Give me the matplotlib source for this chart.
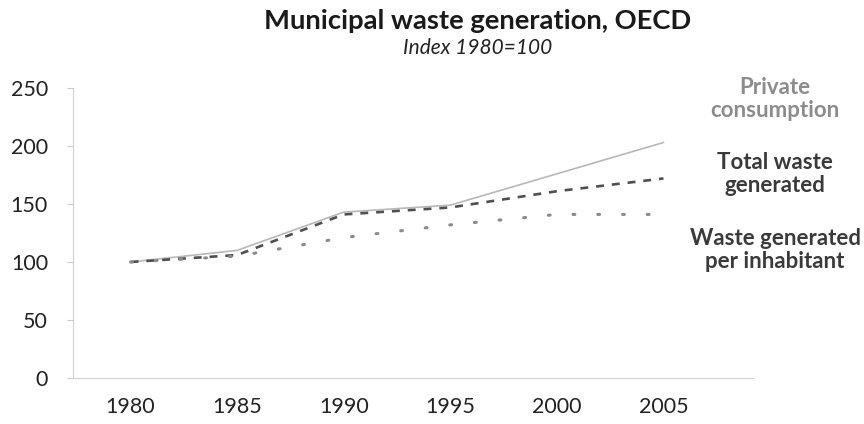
import matplotlib
matplotlib.use("Agg")
import matplotlib.pyplot as plt

years = [1980, 1985, 1990, 1995, 2000, 2005]
private_consumption = [100, 110, 143, 149, 176, 203]
total_waste = [100, 106, 141, 147, 161, 172]
waste_per_inhabitant = [100, 105, 121, 132, 141, 141]
y_ticks = [0, 50, 100, 150, 200, 250]

plt.rcParams['font.family'] = ['Lato', 'DejaVu Sans']

fig = plt.figure(figsize=(8.64, 4.24), dpi=100)
ax = fig.add_axes([0.0845, 0.1085, 0.787, 0.684])

ax.plot(years, private_consumption, color='#b8b8b8', lw=1.2, ls='-')
ax.plot(years, total_waste, color='#505050', lw=1.9, ls=(0, (3, 3)))
ax.plot(years, waste_per_inhabitant, color='#8a8a8a', lw=2.2, ls=(0, (0.6, 7.5)),
        dash_capstyle='round')

ax.set_xlim(1977.3, 2009.2)
ax.set_ylim(0, 250)
ax.set_yticks(y_ticks)
ax.set_xticks(years)
ax.tick_params(axis='y', length=4, color='#cccccc', labelsize=15.5, labelcolor='#222222', pad=14)
ax.tick_params(axis='x', length=0, labelsize=15.5, labelcolor='#222222', pad=14)
for s in ['top', 'right']:
    ax.spines[s].set_visible(False)
for s in ['left', 'bottom']:
    ax.spines[s].set_color('#d0d0d0')
    ax.spines[s].set_linewidth(0.8)

fig.text(0.553, 0.950, 'Municipal waste generation, OECD', ha='center', va='center',
         fontsize=19.7, fontweight='bold', color='#1a1a1a')
fig.text(0.553, 0.886, 'Index 1980=100', ha='center', va='center',
         fontsize=15, style='italic', color='#222222')

label_x = 0.897
fig.text(label_x, 0.767, 'Private\nconsumption', ha='center', va='center',
         fontsize=16, fontweight='bold', color='#8c8c8c', linespacing=1.12)
fig.text(label_x, 0.590, 'Total waste\ngenerated', ha='center', va='center',
         fontsize=16, fontweight='bold', color='#3a3a3a', linespacing=1.12)
fig.text(label_x, 0.410, 'Waste generated\nper inhabitant', ha='center', va='center',
         fontsize=16, fontweight='bold', color='#3a3a3a', linespacing=1.12)

fig.savefig('out.png', dpi=100, facecolor='white')
